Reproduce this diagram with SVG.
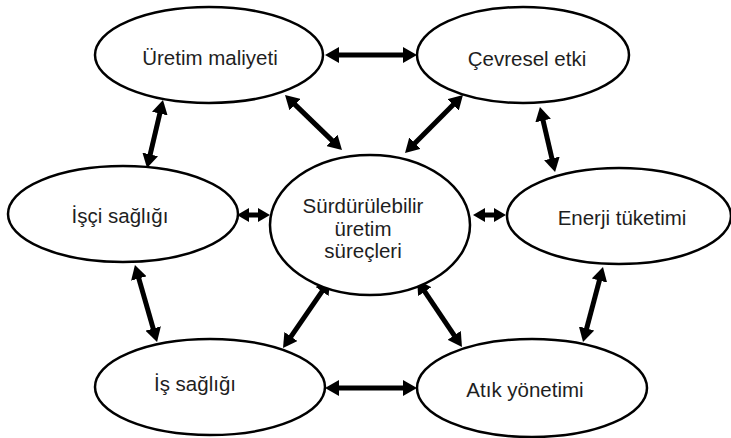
<svg xmlns="http://www.w3.org/2000/svg" width="731" height="438" viewBox="0 0 731 438">
<defs>
<style>
.node ellipse{fill:#fff;stroke:#000;stroke-width:2.5}
.node text{font-family:"Liberation Sans",Arial,sans-serif;font-size:20.5px;fill:#1e1e1e;text-anchor:middle}
.conn line{stroke:#000;stroke-width:5;fill:none}
.big{marker-start:url(#ah);marker-end:url(#ah)}
.small{marker-start:url(#ahs);marker-end:url(#ahs)}
</style>
<marker id="ah" markerUnits="userSpaceOnUse" markerWidth="16" markerHeight="16" refX="4" refY="8" orient="auto-start-reverse">
<path d="M0,0 L14,8 L0,16 z" fill="#000"/>
</marker>
<marker id="ahs" markerUnits="userSpaceOnUse" markerWidth="14" markerHeight="14" refX="4" refY="7" orient="auto-start-reverse">
<path d="M0,0 L12,7 L0,14 z" fill="#000"/>
</marker>
</defs>
<rect width="731" height="438" fill="#fff"/>
<g id="connectors" class="conn">
<line class="big" x1="335" y1="55" x2="407" y2="55"/>
<line class="big" x1="292.2" y1="101.9" x2="334.8" y2="143.1"/>
<line class="big" x1="455.9" y1="102.1" x2="412.1" y2="145.9"/>
<line class="big" x1="160.7" y1="109.7" x2="149.3" y2="158.3"/>
<line class="big" x1="542.2" y1="116.7" x2="552.8" y2="162.3"/>
<line class="small" x1="245" y1="215" x2="262" y2="215"/>
<line class="small" x1="481" y1="215" x2="498" y2="215"/>
<line class="big" x1="137.7" y1="274.6" x2="154.3" y2="332.4"/>
<line class="big" x1="600.4" y1="276.7" x2="585.6" y2="332.3"/>
<line class="big" x1="324.3" y1="288.2" x2="288.7" y2="339.8"/>
<line class="big" x1="422.6" y1="288.3" x2="456.4" y2="338.7"/>
<line class="big" x1="335" y1="388" x2="407" y2="388"/>
</g>
<g id="uretim-maliyeti" class="node">
<ellipse cx="209" cy="55" rx="114" ry="48"/>
<text x="210" y="65">Üretim maliyeti</text>
</g>
<g id="cevresel-etki" class="node">
<ellipse cx="523" cy="55" rx="106" ry="48"/>
<text x="527" y="66">Çevresel etki</text>
</g>
<g id="surdurulebilir" class="node">
<ellipse cx="370" cy="225" rx="100" ry="70"/>
<text x="363" y="213">Sürdürülebilir</text>
<text x="363" y="236">üretim</text>
<text x="363" y="258">süreçleri</text>
</g>
<g id="isci-sagligi" class="node">
<ellipse cx="123" cy="214" rx="115" ry="48"/>
<text x="120" y="223">İşçi sağlığı</text>
</g>
<g id="enerji-tuketimi" class="node">
<ellipse cx="619" cy="216" rx="112" ry="48"/>
<text x="622" y="225">Enerji tüketimi</text>
</g>
<g id="is-sagligi" class="node">
<ellipse cx="210" cy="387" rx="115" ry="48"/>
<text x="195" y="391">İş sağlığı</text>
</g>
<g id="atik-yonetimi" class="node">
<ellipse cx="532" cy="388" rx="115" ry="49"/>
<text x="525" y="397">Atık yönetimi</text>
</g>
</svg>
